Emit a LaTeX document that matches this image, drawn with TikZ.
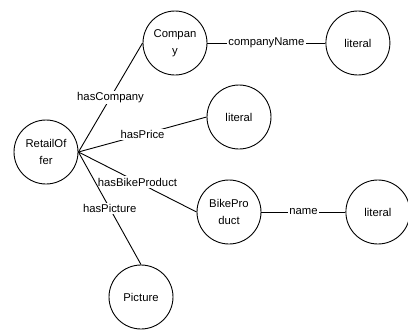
\documentclass[tikz,border=0pt]{standalone}
\usepackage{fontspec}
\setmainfont{Liberation Sans}
\usepackage{tikz}
\usetikzlibrary{positioning}

\begin{document}
\begin{tikzpicture}[x=1bp, y=-1bp, line width=0.9bp,
    res/.style={draw, circle, minimum size=64bp, inner sep=0pt, align=center, font=\fontsize{11.3bp}{17bp}\selectfont},
    prop/.style={fill=white, inner sep=1.5bp, font=\fontsize{11.3bp}{13bp}\selectfont}]
    \useasboundingbox (0,0) rectangle (408,334);
    % Resources
    \node[res] (offer) at (46,152) {RetailOf\\fer};
    \node[res] (company) at (175,43) {Compan\\y};
    \node[res, right=118bp of company] (companylit) {literal};
    \node[res] (pricelit) at (239,117) {literal};
    \node[res] (bike) at (229,212) {BikePro\\duct};
    \node[res, right=84bp of bike] (namelit) {literal};
    \node[res] (picture) at (141,297) {Picture};

    % Properties
    \draw (offer.east) -- node[prop]{hasCompany} (company.west);
    \draw (offer.east) -- node[prop]{hasPrice} (pricelit.west);
    \draw (offer.east) -- node[prop]{hasBikeProduct} (bike.west);
    \draw (offer.east) -- node[prop]{hasPicture} (picture.north);
    \draw (company) -- node[prop]{companyName} (companylit);
    \draw (bike) -- node[prop]{name} (namelit);
\end{tikzpicture}
\end{document}
